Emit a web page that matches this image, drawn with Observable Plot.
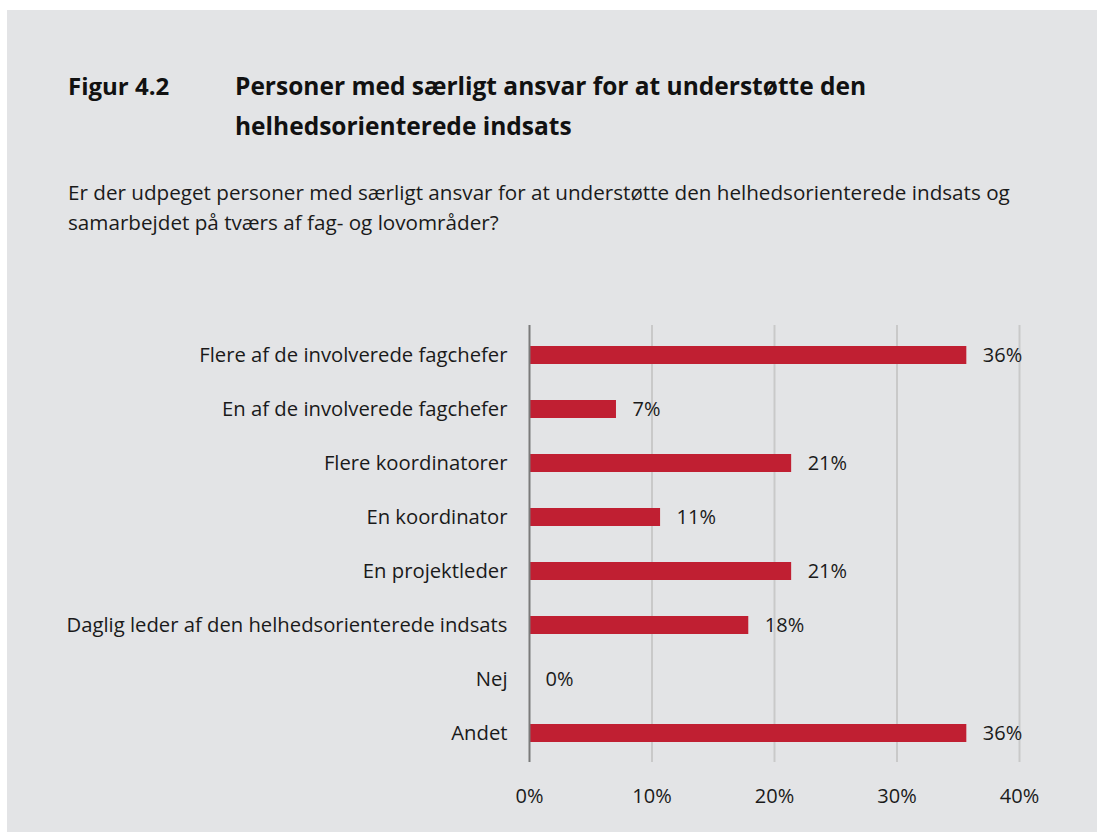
<!DOCTYPE html>
<html><head><meta charset="utf-8">
<script src="https://cdn.jsdelivr.net/npm/d3@7"></script>
<script src="https://cdn.jsdelivr.net/npm/@observablehq/plot@0.6"></script>
<style>
html,body{margin:0;padding:0;background:#fff;width:1097px;height:832px;overflow:hidden;font-family:"Open Sans",sans-serif;}
#panel{position:absolute;left:7px;top:10px;width:1090px;height:822px;background:#e3e4e6;}
.t{position:absolute;color:#111;white-space:nowrap;}
#fig{left:61px;top:56px;font-size:24px;font-weight:700;line-height:40px;}
#title{left:228px;top:56px;font-size:24.5px;font-weight:700;line-height:40px;}
#sub{left:61px;top:167px;font-size:20.65px;line-height:30px;color:#1a1a1a;}
#chart{position:absolute;left:0;top:300px;}
</style></head>
<body>
<div id="panel">
<div class="t" id="fig">Figur 4.2</div>
<div class="t" id="title">Personer med særligt ansvar for at understøtte den<br>helhedsorienterede indsats</div>
<div class="t" id="sub">Er der udpeget personer med særligt ansvar for at understøtte den helhedsorienterede indsats og<br>samarbejdet på tværs af fag- og lovområder?</div>
</div>
<div id="chart"></div>
<script>
const categories = ["Flere af de involverede fagchefer","En af de involverede fagchefer","Flere koordinatorer","En koordinator","En projektleder","Daglig leder af den helhedsorienterede indsats","Nej","Andet"];
const values = [35.7, 7.1, 21.4, 10.7, 21.4, 17.9, 0, 35.7];
const valueLabels = ["36%","7%","21%","11%","21%","18%","0%","36%"];
const xTicks = [0, 10, 20, 30, 40];
const gridTicks = [10, 20, 30, 40];

const data = categories.map((c, i) => ({cat: c, v: values[i], lab: valueLabels[i]}));

const chart = Plot.plot({
  width: 1097,
  height: 530,
  marginTop: 25,
  marginBottom: 68,
  marginLeft: 529,
  marginRight: 78,
  style: {background: "transparent", fontFamily: "Open Sans, sans-serif", fontSize: "20px", color: "#1a1a1a"},
  x: {domain: [0, 40], label: null},
  y: {domain: categories, paddingInner: 0.67, paddingOuter: 0.335, label: null},
  marks: [
    Plot.ruleX(gridTicks, {stroke: "#c9c9c9", strokeWidth: 2}),
    Plot.barX(data, {x: "v", y: "cat", fill: "#c01f32"}),
    Plot.ruleX([0], {stroke: "#7a7a7a", strokeWidth: 2}),
    Plot.text(data, {x: "v", y: "cat", text: "lab", dx: 16, textAnchor: "start", fontSize: 20, fill: "#1a1a1a"}),
    Plot.axisX({ticks: xTicks, tickFormat: d => d + "%", tickSize: 0, tickPadding: 26, fontSize: 20, label: null}),
    Plot.axisY({tickSize: 0, tickPadding: 22, fontSize: 20.25, label: null})
  ]
});
document.getElementById("chart").appendChild(chart);
</script>
</body></html>
